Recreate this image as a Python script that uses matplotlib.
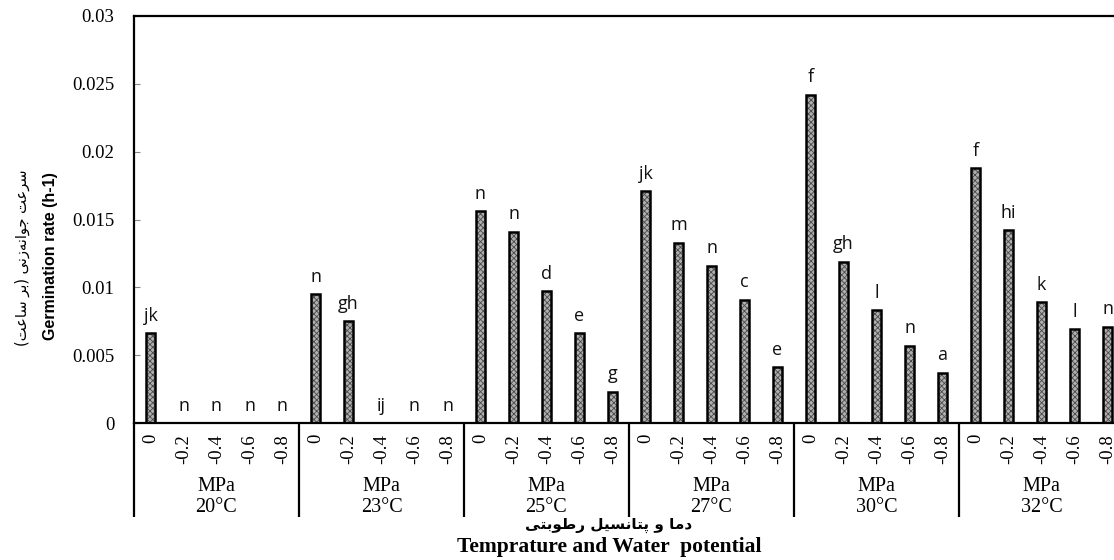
import matplotlib
matplotlib.use("Agg")
import matplotlib.pyplot as plt
import matplotlib.transforms as mtransforms
import numpy as np

# ---------------- data ----------------
temperatures = ['20°C', '23°C', '25°C', '27°C', '30°C', '32°C']
potentials = ['0', '-0.2', '-0.4', '-0.6', '-0.8']
rate_20 = [0.0066, 0.0, 0.0, 0.0, 0.0]
rate_23 = [0.0095, 0.0075, 0.0, 0.0, 0.0]
rate_25 = [0.0156, 0.0141, 0.0097, 0.0066, 0.0023]
rate_27 = [0.0171, 0.0133, 0.0116, 0.0091, 0.0041]
rate_30 = [0.0242, 0.0119, 0.0083, 0.0057, 0.0037]
rate_32 = [0.0188, 0.0142, 0.0089, 0.0069, 0.0071]
letters_20 = ['jk', 'n', 'n', 'n', 'n']
letters_23 = ['n', 'gh', 'ij', 'n', 'n']
letters_25 = ['n', 'n', 'd', 'e', 'g']
letters_27 = ['jk', 'm', 'n', 'c', 'e']
letters_30 = ['f', 'gh', 'l', 'n', 'a']
letters_32 = ['f', 'hi', 'k', 'l', 'n']
y_ticks = [0, 0.005, 0.01, 0.015, 0.02, 0.025, 0.03]
y_tick_labels = ['0', '0.005', '0.01', '0.015', '0.02', '0.025', '0.03']

rates = rate_20 + rate_23 + rate_25 + rate_27 + rate_30 + rate_32
letters = letters_20 + letters_23 + letters_25 + letters_27 + letters_30 + letters_32

# ------------- minimal Persian shaping (presentation forms, visual order) -------------
FORMS = {
    'ا': ('\uFE8D', '\uFE8E', None, None),
    'ب': ('\uFE8F', '\uFE90', '\uFE91', '\uFE92'),
    'پ': ('\uFB56', '\uFB57', '\uFB58', '\uFB59'),
    'ت': ('\uFE95', '\uFE96', '\uFE97', '\uFE98'),
    'ج': ('\uFE9D', '\uFE9E', '\uFE9F', '\uFEA0'),
    'د': ('\uFEA9', '\uFEAA', None, None),
    'ر': ('\uFEAD', '\uFEAE', None, None),
    'ز': ('\uFEAF', '\uFEB0', None, None),
    'س': ('\uFEB1', '\uFEB2', '\uFEB3', '\uFEB4'),
    'ط': ('\uFEC1', '\uFEC2', '\uFEC3', '\uFEC4'),
    'ع': ('\uFEC9', '\uFECA', '\uFECB', '\uFECC'),
    'ل': ('\uFEDD', '\uFEDE', '\uFEDF', '\uFEE0'),
    'م': ('\uFEE1', '\uFEE2', '\uFEE3', '\uFEE4'),
    'ن': ('\uFEE5', '\uFEE6', '\uFEE7', '\uFEE8'),
    'ه': ('\uFEE9', '\uFEEA', '\uFEEB', '\uFEEC'),
    'و': ('\uFEED', '\uFEEE', None, None),
    'ی': ('\uFEEF', '\uFEF0', '\uFEF3', '\uFEF4'),
}


def shape_fa(s):
    out = []
    for i, c in enumerate(s):
        if c not in FORMS:
            if c != '\u200c':
                out.append(c)
            continue
        prev = s[i - 1] if i > 0 else None
        nxt = s[i + 1] if i + 1 < len(s) else None
        join_prev = prev in FORMS and FORMS[prev][2] is not None
        join_next = nxt in FORMS and FORMS[c][2] is not None
        iso, fin, ini, med = FORMS[c]
        if join_prev and join_next:
            out.append(med)
        elif join_prev:
            out.append(fin)
        elif join_next:
            out.append(ini)
        else:
            out.append(iso)
    vis = ''.join(reversed(out))
    vis = vis.replace('(', '\0').replace(')', '(').replace('\0', ')')
    return vis


ylabel_fa = shape_fa('سرعت جوانه\u200cزنی (بر ساعت)')
xlabel_fa = shape_fa('دما و پتانسیل رطوبتی')

# ---------------- figure ----------------
W, H = 1114, 560
fig = plt.figure(figsize=(W / 100, H / 100), dpi=100)
ax_left, ax_right, ax_top, ax_bottom = 134, 1124, 16, 423
ax = fig.add_axes([ax_left / W, 1 - ax_bottom / H, (ax_right - ax_left) / W, (ax_bottom - ax_top) / H])
ax_h = ax_bottom - ax_top

x = np.arange(len(rates))
bw = 0.29
plt.rcParams['hatch.color'] = '#4a4a4a'
plt.rcParams['hatch.linewidth'] = 0.6
ax.bar(x, rates, width=bw, color='#b0b0b0', hatch='xxxxxx', edgecolor='#4a4a4a', linewidth=0, zorder=2)
ax.bar(x, rates, width=bw, fill=False, edgecolor='black', linewidth=1.8, zorder=3)

for xi, v, lab in zip(x, rates, letters):
    ax.annotate(lab, (xi, v), xytext=(0, 6), textcoords='offset points', ha='center', va='bottom',
                fontsize=13, family=['Open Sans', 'DejaVu Sans'], color='#111111')

ax.set_xlim(-0.5, len(rates) - 0.5)
ax.set_ylim(0, 0.03)
ax.set_yticks(y_ticks)
ax.set_yticklabels(y_tick_labels, family='Liberation Serif', fontsize=13.5)
ax.tick_params(axis='y', direction='in', length=4, color='#888888', pad=14)

ax.set_xticks(x)
ax.set_xticklabels(potentials * len(temperatures), rotation=90, family='Liberation Serif', fontsize=13.5)
ax.tick_params(axis='x', length=0, pad=8)

for side in ['left', 'top', 'bottom']:
    ax.spines[side].set_linewidth(1.6)
    ax.spines[side].set_color('black')
ax.spines['right'].set_visible(False)

trans = mtransforms.blended_transform_factory(ax.transData, ax.transAxes)
sep_bottom = -(517 - ax_bottom) / ax_h
n_pot = len(potentials)
for g in range(len(temperatures) + 1):
    xs = g * n_pot - 0.5
    ax.plot([xs, xs], [0, sep_bottom], transform=trans, color='black', lw=1.6, clip_on=False,
            solid_capstyle='butt')

for g, t in enumerate(temperatures):
    xc = g * n_pot + (n_pot - 1) / 2
    ax.text(xc, -(497 - ax_bottom) / ax_h, 'MPa\n' + t, transform=trans, ha='center',
            va='center', family='Liberation Serif', fontsize=14.5, linespacing=1.15)

# axis titles
fig.text(609 / W, 1 - 525 / H, xlabel_fa, ha='center', va='center', family=['DejaVu Sans'],
         fontweight='bold', fontsize=11)
fig.text(609 / W, 1 - 547 / H, 'Temprature and Water  potential', ha='center', va='center',
         family='Liberation Serif', fontweight='bold', fontsize=15.5)

fig.text(22 / W, 1 - 258 / H, ylabel_fa, ha='center', va='center', rotation=90,
         family=['DejaVu Sans'], fontsize=10.5)
fig.text(51 / W, 1 - 256 / H, 'Germination rate (h-1)', ha='center', va='center', rotation=90,
         family=['Liberation Sans Narrow', 'Liberation Sans'], fontweight='bold', fontsize=11.5)

fig.savefig('out.png', dpi=100)
